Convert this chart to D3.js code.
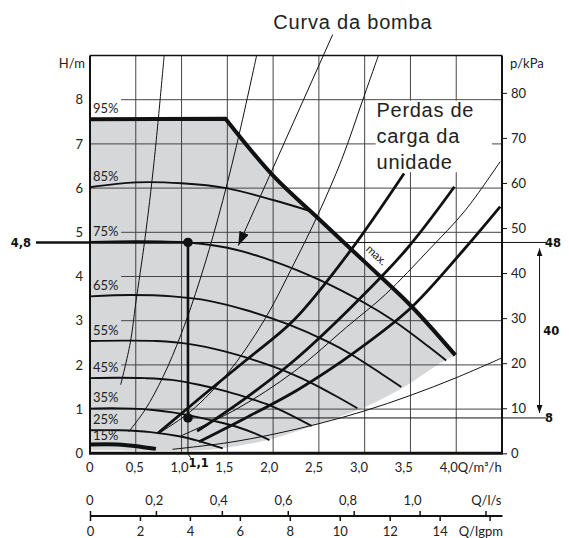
<!DOCTYPE html>
<html>
<head>
<meta charset="utf-8">
<style>
  body { margin: 0; background: #fff; }
</style>
</head>
<body>
<div id="chart"></div>
<script src="https://cdn.jsdelivr.net/npm/d3@7/dist/d3.min.js"></script>
<script>

// --------------------------- data (Q in m3/h, H in m) ---------------------------
var speedLabels = ["95%", "85%", "75%", "65%", "55%", "45%", "35%", "25%", "15%"];

var c95 = [[0, 7.56], [1.48, 7.57]];
var c85 = [[0, 6.02], [0.5, 6.13], [1.0, 6.11], [1.49, 6.0], [2.0, 5.73], [2.42, 5.47]];
var c75 = [[0, 4.78], [0.5, 4.8], [1.07, 4.77], [1.5, 4.65], [2.0, 4.35], [2.5, 3.93], [3.0, 3.4], [3.3, 3.02], [3.7, 2.41], [3.89, 2.1]];
var c65 = [[0, 3.55], [0.45, 3.58], [0.9, 3.55], [1.3, 3.45], [1.72, 3.23], [2.16, 2.92], [2.59, 2.53], [2.85, 2.24], [3.19, 1.79], [3.4, 1.5]];
var c55 = [[0, 2.54], [0.36, 2.55], [0.73, 2.54], [1.09, 2.47], [1.46, 2.31], [1.82, 2.09], [2.19, 1.81], [2.41, 1.6], [2.7, 1.28], [2.92, 1.02]];
var c45 = [[0, 1.7], [0.3, 1.71], [0.6, 1.7], [0.89, 1.66], [1.19, 1.55], [1.49, 1.4], [1.79, 1.21], [1.97, 1.08], [2.2, 0.86], [2.42, 0.62]];
var c35 = [[0, 1.01], [0.23, 1.02], [0.46, 1.01], [0.69, 0.98], [0.92, 0.92], [1.15, 0.83], [1.38, 0.72], [1.6, 0.6], [1.8, 0.45], [1.96, 0.3]];
var c25 = [[0, 0.52], [0.33, 0.52], [0.66, 0.48], [0.99, 0.38], [1.2, 0.27], [1.45, 0.11]];
var c15 = [[0, 0.2], [0.3, 0.2], [0.55, 0.15], [0.72, 0.1]];
var speedCurves = [c95, c85, c75, c65, c55, c45, c35, c25, c15];

// max. limit and lower edge of the grey working field
var maxLine = [[1.48, 7.57], [2.0, 6.28], [2.5, 5.3], [3.0, 4.33], [3.5, 3.35], [3.99, 2.22]];
var greyLow = [[0, 0.07], [1.2, 0.07], [1.5, 0.13], [2.0, 0.33], [2.23, 0.48], [2.6, 0.74], [3.0, 1.04], [3.43, 1.5], [3.85, 2.07], [3.99, 2.22]];

// perdas de carga (system curves)
var lossA = [[0.335, 1.55], [0.44, 2.5], [0.5, 3.4], [0.6, 4.85], [0.7, 6.6], [0.81, 9.0]];
var lossB = [[0.42, 0.48], [0.6, 0.98], [0.8, 1.74], [1.0, 2.72], [1.2, 3.92], [1.4, 5.33], [1.6, 6.96], [1.82, 9.0]];
var lossC = [[0.75, 0.45], [1.1, 0.95], [1.5, 1.8], [1.9, 3.0], [2.23, 4.3], [2.49, 5.4], [2.75, 6.65], [2.98, 8.0], [3.15, 9.0]];
var lossD = [[1.0, 0.4], [1.6, 1.0], [2.23, 1.85], [2.8, 2.85], [3.23, 3.6], [3.7, 4.6], [4.1, 5.5], [4.48, 6.6]];
var lossE = [[0.9, 0.09], [1.5, 0.24], [2.0, 0.43], [2.5, 0.67], [3.0, 0.96], [3.5, 1.31], [4.0, 1.71], [4.49, 2.15]];
var loss1 = [[0.74, 0.45], [1.2, 1.25], [1.7, 2.1], [2.23, 3.02], [2.85, 4.6], [3.43, 6.33]];
var loss2 = [[1.17, 0.5], [1.7, 1.25], [2.23, 2.1], [2.85, 3.3], [3.45, 4.6], [3.98, 6.03]];
var loss3 = [[1.19, 0.26], [1.7, 0.8], [2.28, 1.45], [2.9, 2.3], [3.5, 3.28], [4.08, 4.6], [4.48, 5.58]];
var lossThin = [lossA, lossB, lossC, lossD, lossE];
var lossThick = [loss1, loss2, loss3];

// duty point
var dutyQ = 1.07, dutyH = 4.77, dutyH2 = 0.8;

// ticks
var qTicks = [0, 0.5, 1.0, 1.5, 2.0, 2.5, 3.0, 3.5, 4.0];
var hTicks = [0, 1, 2, 3, 4, 5, 6, 7, 8];
var kpaTicks = [0, 10, 20, 30, 40, 50, 60, 70, 80];
var lsTicks = [0, 0.2, 0.4, 0.6, 0.8, 1.0, 1.2];
var lsLabels = [0, 0.2, 0.4, 0.6, 0.8, 1.0];
var gpmTicks = [0, 2, 4, 6, 8, 10, 12, 14, 16];
var gapRows = [2, 3, 4, 5, 8];

// --------------------------- scales ---------------------------
var x = d3.scaleLinear().domain([0, 4.5]).range([90, 502]);
var y = d3.scaleLinear().domain([0, 9]).range([453.3, 55.5]);
var yK = d3.scaleLinear().domain([0, 9 * 9.81]).range(y.range());
var xLab = d3.scaleLinear().domain([0, 4.5]).range([89.3, 89.3 + (502 - 90) * 0.98]);
var xLs = d3.scaleLinear().domain([0, 4.5 / 3.6]).range(x.range());
var xLsLab = d3.scaleLinear().domain(xLs.domain()).range([89.3, 89.3 + (502 - 90) * 0.979]);
var xGpm = d3.scaleLinear().domain([0, 4.5 * 3.666]).range(x.range());

var comma = function(d) { return d === 0 ? "0" : d3.format(".1f")(d).replace(".", ","); };

var svg = d3.select("#chart").append("svg")
  .attr("width", 569).attr("height", 538)
  .style("font-family", "Lato, 'Open Sans', sans-serif");

var defs = svg.append("defs");
defs.append("marker").attr("id", "head")
  .attr("viewBox", "0 0 14 10").attr("refX", 14).attr("refY", 5)
  .attr("markerWidth", 14).attr("markerHeight", 10)
  .attr("markerUnits", "userSpaceOnUse").attr("orient", "auto")
  .append("path").attr("d", "M0,0L14,5L0,10Z").attr("fill", "#111");
defs.append("marker").attr("id", "small")
  .attr("viewBox", "0 0 8 6").attr("refX", 8).attr("refY", 3)
  .attr("markerWidth", 8).attr("markerHeight", 6)
  .attr("markerUnits", "userSpaceOnUse").attr("orient", "auto-start-reverse")
  .append("path").attr("d", "M0,0L8,3L0,6Z").attr("fill", "#111");

var curve = d3.line().x(function(d) { return x(d[0]); }).y(function(d) { return y(d[1]); })
  .curve(d3.curveCatmullRom.alpha(0.5));
var straight = d3.line().x(function(d) { return x(d[0]); }).y(function(d) { return y(d[1]); });

// grey field
var upperEdge = straight(c95) + curve(maxLine).replace("M", "L");
var lowerEdge = curve(greyLow.slice().reverse()).replace("M", "L");
svg.append("path").attr("d", upperEdge + lowerEdge + "Z").attr("fill", "#d5d7d9");

// grid
var grid = svg.append("g").attr("stroke", "#444").attr("stroke-width", 1);
grid.selectAll(".v").data(qTicks.filter(function(d) { return d > 0; })).enter().append("line")
  .attr("x1", function(d) { return x(d); }).attr("x2", function(d) { return x(d); })
  .attr("y1", y(0)).attr("y2", y(9));
grid.selectAll(".h").data(hTicks.filter(function(d) { return d > 0; })).enter().append("line")
  .attr("x1", function(d) { return gapRows.indexOf(d) >= 0 ? x(0.34) : x(0); })
  .attr("x2", x(4.5))
  .attr("y1", function(d) { return y(d); }).attr("y2", function(d) { return y(d); });

// system curves
svg.append("g").selectAll("path").data(lossThin).enter().append("path")
  .attr("d", curve).attr("fill", "none").attr("stroke", "#111").attr("stroke-width", 1);
svg.append("g").selectAll("path").data(lossThick).enter().append("path")
  .attr("d", curve).attr("fill", "none").attr("stroke", "#111").attr("stroke-width", 2.8);

// pump speed curves
svg.append("g").selectAll("path").data(speedCurves.slice(1)).enter().append("path")
  .attr("d", curve).attr("fill", "none").attr("stroke", "#111")
  .attr("stroke-width", function(d) { return d === c15 ? 4 : 1.9; });
svg.append("path").attr("d", upperEdge)
  .attr("fill", "none").attr("stroke", "#111").attr("stroke-width", 4).attr("stroke-linejoin", "miter");

// percent labels sit just above the start of each curve, at least 16px apart
var labelY = [];
speedCurves.forEach(function(c, i) {
  var v = y(c[0][1]) - 6.5;
  if (i > 0 && v < labelY[i - 1] + 16) v = labelY[i - 1] + 16;
  labelY.push(v);
});
svg.append("g").selectAll("text").data(speedCurves).enter().append("text")
  .attr("x", x(0) + 3).attr("y", function(d, i) { return labelY[i]; })
  .attr("font-size", 13).attr("fill", "#222")
  .text(function(d, i) { return speedLabels[i]; });

svg.append("text").attr("transform", "translate(" + x(3.1) + "," + y(4.42) + ") rotate(43)")
  .attr("text-anchor", "middle").attr("font-size", 11.5).attr("fill", "#222").text("max.");

// duty point lines
svg.append("line").attr("x1", x(-0.59)).attr("x2", x(dutyQ)).attr("y1", y(dutyH)).attr("y2", y(dutyH))
  .attr("stroke", "#111").attr("stroke-width", 2.6);
svg.append("line").attr("x1", x(dutyQ)).attr("x2", x(4.98)).attr("y1", y(dutyH)).attr("y2", y(dutyH))
  .attr("stroke", "#111").attr("stroke-width", 1);
svg.append("line").attr("x1", x(dutyQ)).attr("x2", x(4.98)).attr("y1", y(dutyH2)).attr("y2", y(dutyH2))
  .attr("stroke", "#111").attr("stroke-width", 1);
svg.append("line").attr("x1", x(dutyQ)).attr("x2", x(dutyQ)).attr("y1", y(dutyH)).attr("y2", y(dutyH2))
  .attr("stroke", "#111").attr("stroke-width", 2.6);
svg.append("path").attr("d", straight([[dutyQ, dutyH2], [dutyQ, -0.02], [dutyQ + 0.03, -0.1]]))
  .attr("fill", "none").attr("stroke", "#111").attr("stroke-width", 1);
svg.selectAll(".dot").data([dutyH, dutyH2]).enter().append("circle")
  .attr("cx", x(dutyQ)).attr("cy", function(d) { return y(d); }).attr("r", 4.8).attr("fill", "#111");

svg.append("line").attr("x1", x(4.91)).attr("x2", x(4.91))
  .attr("y1", y(dutyH) + 6).attr("y2", y(dutyH2) - 5)
  .attr("stroke", "#111").attr("stroke-width", 1)
  .attr("marker-start", "url(#small)").attr("marker-end", "url(#small)");

var bold = svg.append("g").attr("font-family", "'DejaVu Sans', sans-serif")
  .attr("font-weight", "bold").attr("font-size", 11.5).attr("fill", "#111");
bold.append("text").attr("x", 31).attr("y", y(dutyH) + 4.5).attr("text-anchor", "end").text("4,8");
bold.append("text").attr("x", x(4.97)).attr("y", y(dutyH) + 4.5).text("48");
bold.append("text").attr("x", x(4.97)).attr("y", y(dutyH2) + 4.5).text("8");
bold.append("text").attr("x", x(4.95)).attr("y", y((dutyH + dutyH2) / 2) + 4.5).text("40");
bold.append("text").attr("x", x(dutyQ) + 0.5).attr("y", y(0) + 13.5).text("1,1");

// frame
var frame = svg.append("g").attr("stroke", "#111");
frame.append("line").attr("x1", x(0)).attr("x2", x(4.5)).attr("y1", y(9)).attr("y2", y(9)).attr("stroke-width", 1.5);
frame.append("line").attr("x1", x(0)).attr("x2", x(0)).attr("y1", y(9)).attr("y2", y(0)).attr("stroke-width", 2);
frame.append("line").attr("x1", x(4.5)).attr("x2", x(4.5)).attr("y1", y(9)).attr("y2", y(0)).attr("stroke-width", 2);
frame.append("line").attr("x1", x(0) - 1).attr("x2", x(4.5) + 1).attr("y1", y(0)).attr("y2", y(0)).attr("stroke-width", 3);

// labels of the two curve families
svg.append("rect").attr("x", x(3.12)).attr("y", y(7.98))
  .attr("width", x(4.39) - x(3.12)).attr("height", y(6.36) - y(7.98)).attr("fill", "#fff");
var perdas = svg.append("text").attr("font-family", "'Liberation Sans', Arial, sans-serif")
  .attr("font-size", 20).attr("letter-spacing", 0.7).attr("fill", "#222");
["Perdas de", "carga da", "unidade"].forEach(function(t, i) {
  perdas.append("tspan").attr("x", x(3.13)).attr("y", 116.7 + i * 26.2).text(t);
});
svg.append("text").attr("x", 273.3).attr("y", 29.2)
  .attr("font-family", "'Liberation Sans', Arial, sans-serif")
  .attr("font-size", 20).attr("letter-spacing", 0.8).attr("fill", "#222").text("Curva da bomba");
svg.append("line").attr("x1", x(2.65)).attr("y1", y(9.47)).attr("x2", x(1.62)).attr("y2", y(4.7))
  .attr("stroke", "#111").attr("stroke-width", 1).attr("marker-end", "url(#head)");

// --------------------------- axes ---------------------------
function styleAxis(g) {
  g.attr("font-family", "Lato, 'Open Sans', sans-serif").attr("font-size", 13);
  g.select(".domain").remove();
  g.selectAll("text").attr("fill", "#222");
  g.selectAll("line").attr("stroke", "#111");
}

svg.append("g").attr("transform", "translate(" + x(0) + ",0)")
  .call(d3.axisLeft(y).tickValues(hTicks).tickSize(0).tickPadding(7)).call(styleAxis);
svg.append("g").attr("transform", "translate(" + x(4.5) + ",0)")
  .call(d3.axisRight(yK).tickValues(kpaTicks).tickSize(5).tickPadding(4)).call(styleAxis);
svg.append("text").attr("x", 85).attr("y", 68).attr("text-anchor", "end")
  .attr("font-size", 13).attr("fill", "#222").text("H/m");
svg.append("text").attr("x", 510).attr("y", 68)
  .attr("font-size", 13).attr("fill", "#222").text("p/kPa");

svg.append("g").attr("transform", "translate(0," + y(0) + ")")
  .call(d3.axisBottom(xLab).tickValues(qTicks).tickFormat(comma).tickSize(0).tickPadding(9))
  .call(styleAxis);
svg.append("text").attr("x", x(4.0) + 1.5).attr("y", 471.7)
  .attr("font-size", 13).attr("fill", "#222").text("Q/m³/h");

var lsY = 516;
svg.append("line").attr("x1", x(0)).attr("x2", x(4.5) + 0.5).attr("y1", lsY).attr("y2", lsY)
  .attr("stroke", "#111").attr("stroke-width", 2);
svg.append("g").attr("transform", "translate(0," + lsY + ")")
  .call(d3.axisTop(xLs).tickValues(lsTicks).tickFormat("").tickSize(5)).call(styleAxis)
  .selectAll("line").attr("stroke-width", 1.5);
svg.append("g").attr("transform", "translate(0," + lsY + ")")
  .call(d3.axisTop(xLsLab).tickValues(lsLabels).tickFormat(comma).tickSize(0).tickPadding(11)).call(styleAxis);
svg.append("text").attr("x", x(4.5) - 0.5).attr("y", 505).attr("text-anchor", "end")
  .attr("font-size", 13).attr("fill", "#222").text("Q/l/s");

svg.append("g").attr("transform", "translate(0," + lsY + ")")
  .call(d3.axisBottom(xGpm).tickValues(gpmTicks)
    .tickFormat(function(d) { return d === 16 ? "" : d; }).tickSize(5).tickPadding(5.5))
  .call(styleAxis).selectAll("line").attr("stroke-width", 1.5);
svg.append("text").attr("x", x(4.5) + 1).attr("y", 535.5).attr("text-anchor", "end")
  .attr("font-size", 13).attr("fill", "#222").text("Q/Igpm");

</script>
</body>
</html>
